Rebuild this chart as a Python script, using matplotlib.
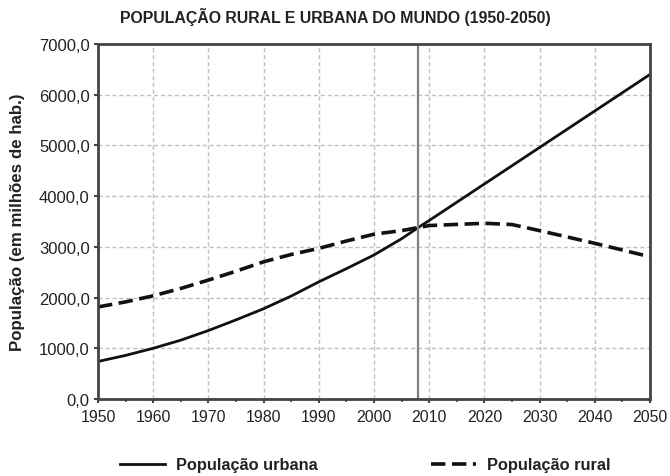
import matplotlib
matplotlib.use("Agg")
import matplotlib.pyplot as plt
from matplotlib.ticker import FuncFormatter, MultipleLocator

plt.rcParams['font.family'] = ['Liberation Sans', 'DejaVu Sans']

years = [1950, 1955, 1960, 1965, 1970, 1975, 1980, 1985, 1990, 1995, 2000, 2005,
         2008, 2010, 2020, 2025, 2030, 2040, 2050]
urbana = [740, 860, 1000, 1160, 1350, 1560, 1780, 2030, 2310, 2570, 2840, 3160,
          3380, 3520, 4240, 4600, 4960, 5680, 6400]
rural = [1815, 1915, 2035, 2180, 2345, 2520, 2705, 2850, 2970, 3115, 3250, 3320,
         3380, 3420, 3465, 3440, 3320, 3070, 2805]
marco_ano = 2008

title = "POPULAÇÃO RURAL E URBANA DO MUNDO (1950-2050)"
ylabel = "População (em milhões de hab.)"
label_urbana = "População urbana"
label_rural = "População rural"

fig = plt.figure(figsize=(6.7, 4.77), dpi=100)
ax = fig.add_axes([98/670, 1 - 400/477, (650-98)/670, (400-45)/477])

ax.plot(years, urbana, color='#111111', lw=2.0, label=label_urbana)
ax.plot(years, rural, color='#111111', lw=2.6, ls=(0, (4, 1.8)), label=label_rural)
ax.axvline(marco_ano, color='#808080', lw=1.6)

ax.set_xlim(1950, 2050)
ax.set_ylim(0, 7000)
ax.xaxis.set_major_locator(MultipleLocator(10))
ax.xaxis.set_minor_locator(MultipleLocator(5))
ax.yaxis.set_major_locator(MultipleLocator(1000))
ax.yaxis.set_major_formatter(FuncFormatter(lambda v, p: f"{v:.1f}".replace('.', ',')))

ax.grid(True, which='major', color='#c0c0c0', ls=(0, (3, 2)), lw=1.0)
ax.set_axisbelow(True)

for s in ax.spines.values():
    s.set_color('#444444')
    s.set_linewidth(2.0)

ax.tick_params(axis='both', which='major', direction='out', length=3, width=1.5,
               color='#444444', labelcolor='#222222', pad=3)
ax.tick_params(axis='x', labelsize=11.4, pad=4)
ax.tick_params(axis='y', labelsize=12.0)
ax.tick_params(axis='x', which='minor', direction='out', length=2, width=1.2, color='#444444')

ax.set_ylabel(ylabel, fontsize=12.2, fontweight='bold', color='#222222', labelpad=10)
fig.text(0.5, 1 - 17/477, title, ha='center', va='center', fontsize=11.4,
         fontweight='bold', color='#222222')

handles, labels = ax.get_legend_handles_labels()
leg = fig.legend(handles, labels, loc='center', bbox_to_anchor=(365.5/670, 1 - 466/477),
                 ncol=2, frameon=False, columnspacing=6.9, handlelength=2.75,
                 handletextpad=0.67, prop={'weight': 'bold', 'size': 11.8})
for t in leg.get_texts():
    t.set_color('#222222')

fig.savefig('out.png', dpi=100)
